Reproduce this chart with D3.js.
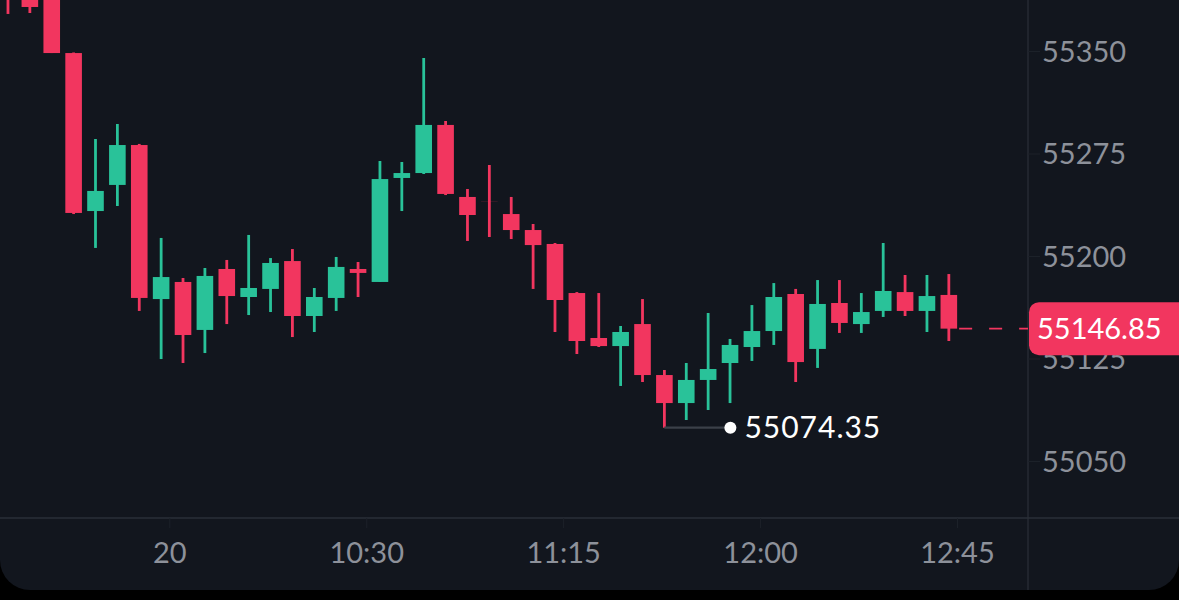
<!DOCTYPE html>
<html>
<head>
<meta charset="utf-8">
<script src="https://cdn.jsdelivr.net/npm/d3@7"></script>
<style>
  html, body { margin: 0; padding: 0; background: #000; }
  svg { display: block; }
</style>
</head>
<body>
<svg id="chart" width="1179" height="600"></svg>
<script>
// ---- data (5-minute candles, open times) ----
const times = ["09:05","09:10","09:15","09:20","09:25","09:30","09:35","09:40","09:45","09:50",
  "09:55","10:00","10:05","10:10","10:15","10:20","10:25","10:30","10:35","10:40",
  "10:45","10:50","10:55","11:00","11:05","11:10","11:15","11:20","11:25","11:30",
  "11:35","11:40","11:45","11:50","11:55","12:00","12:05","12:10","12:15","12:20",
  "12:25","12:30","12:35","12:40"];
const opens  = [55416.6,55402.0,55391.0,55348.5,55232.9,55252.0,55281.2,55168.5,55181.0,55145.9,
  55190.5,55170.0,55175.9,55196.3,55156.1,55169.3,55190.5,55181.0,55257.1,55260.7,
  55295.9,55243.2,55240.1,55230.7,55219.0,55208.8,55172.9,55140.0,55134.1,55150.2,
  55112.9,55092.4,55109.3,55121.7,55133.4,55145.1,55172.2,55132.0,55165.6,55150.2,
  55159.8,55173.6,55159.8,55171.5];
const highs  = [55420.2,55405.6,55393.2,55348.9,55285.6,55296.6,55282.0,55213.2,55183.9,55191.2,
  55197.1,55215.4,55198.5,55205.1,55176.6,55199.3,55195.6,55269.5,55268.8,55344.9,
  55298.8,55249.0,55266.6,55243.2,55223.4,55209.5,55173.6,55172.9,55148.8,55168.5,
  55116.6,55121.7,55158.3,55139.3,55164.1,55180.2,55175.9,55182.4,55182.4,55172.9,
  55209.5,55186.1,55186.1,55186.8];
const lows   = [55377.1,55377.8,55348.5,55230.7,55205.9,55236.6,55159.8,55124.6,55121.7,55129.0,
  55150.2,55156.8,55159.0,55140.7,55144.4,55159.8,55170.0,55181.0,55232.9,55260.0,
  55244.6,55211.0,55213.9,55212.4,55175.9,55144.4,55128.3,55133.4,55104.9,55107.8,
  55074.35,55080.0,55087.3,55092.4,55123.2,55134.9,55107.8,55118.1,55143.7,55143.7,
  55155.4,55156.1,55144.4,55137.8];
const closes = [55394.6,55382.2,55348.5,55231.5,55247.6,55281.2,55169.3,55184.6,55142.2,55185.4,
  55170.7,55176.6,55194.9,55156.1,55170.0,55192.0,55187.6,55256.3,55260.7,55295.9,
  55245.4,55230.0,55240.0,55219.0,55208.0,55167.8,55137.8,55134.1,55144.4,55112.9,
  55092.4,55109.3,55117.3,55134.9,55145.1,55170.0,55122.4,55164.9,55151.0,55159.0,
  55174.4,55159.8,55170.7,55146.85];
const yTicks = [55050, 55125, 55200, 55275, 55350];
const xTickTimes = ["09:45","10:30","11:15","12:00","12:45"];
const xTickLabels = ["20","10:30","11:15","12:00","12:45"];

// ---- styles ----
const W = 1179, H = 600;
const BG = "#12161e", UP = "#29c299", DOWN = "#f2365f";
const AXIS_TXT = "#8d919a", SEP = "#2a2f38";
const FONT = "Lato, 'Open Sans', sans-serif";
const plotRight = 1028, plotBottom = 518, panelBottom = 590;

const parse = d3.timeParse("%H:%M");
const data = times.map((t, i) => ({
  t: parse(t), o: opens[i], h: highs[i], l: lows[i], c: closes[i]
}));

const svg = d3.select("#chart");

// panel with rounded bottom corners
svg.append("rect").attr("x", 0).attr("y", -40).attr("width", W).attr("height", panelBottom + 40)
  .attr("rx", 30).attr("fill", BG);

// scales
const x = d3.scaleTime()
  .domain([parse("09:45"), parse("12:45")])
  .range([169.3, 957]);
const y = d3.scaleLinear()
  .domain([55050, 55350])
  .range([461, 51]);
const step = x(parse("09:10")) - x(parse("09:05"));
const shift = step * 0.627; // candle center relative to its open time
const bodyW = 16.6;
const cx = d => x(d.t) + shift;

// separators
svg.append("line").attr("x1", 0).attr("x2", W).attr("y1", plotBottom).attr("y2", plotBottom)
  .attr("stroke", SEP).attr("stroke-width", 1.5);
svg.append("line").attr("x1", plotRight).attr("x2", plotRight).attr("y1", 0).attr("y2", panelBottom)
  .attr("stroke", SEP).attr("stroke-width", 1.2);

// y axis (labels right of the plot)
const yAxis = d3.axisRight(y).tickValues(yTicks).tickSize(12).tickPadding(2).tickFormat(d3.format("d"));
const yg = svg.append("g").attr("transform", `translate(${plotRight},0)`).call(yAxis);
yg.select(".domain").remove();
yg.selectAll(".tick line").attr("stroke", "#1c2129");
yg.selectAll(".tick text").attr("fill", AXIS_TXT).attr("font-family", FONT)
  .attr("font-size", 29).attr("x", 14).attr("dy", "0.35em");

// x axis
const xAxis = d3.axisBottom(x).tickValues(xTickTimes.map(parse)).tickSize(10).tickPadding(14)
  .tickFormat((d, i) => xTickLabels[i]);
const xg = svg.append("g").attr("transform", `translate(0,${plotBottom})`).call(xAxis);
xg.select(".domain").remove();
xg.selectAll(".tick line").attr("stroke", "#1c2129");
xg.selectAll(".tick text").attr("fill", AXIS_TXT).attr("font-family", FONT)
  .attr("font-size", 29).attr("dy", "0.71em");

// candles
const clip = svg.append("clipPath").attr("id", "plotclip")
  .append("rect").attr("x", 0).attr("y", 0).attr("width", plotRight).attr("height", plotBottom);
const plot = svg.append("g").attr("clip-path", "url(#plotclip)");
const candles = plot.selectAll("g.candle").data(data).join("g").attr("class", "candle");
candles.append("line")
  .attr("x1", cx).attr("x2", cx)
  .attr("y1", d => y(d.h)).attr("y2", d => y(d.l))
  .attr("stroke", d => d.c >= d.o ? UP : DOWN).attr("stroke-width", 2.8);
candles.append("rect")
  .attr("x", d => cx(d) - bodyW / 2).attr("width", bodyW)
  .attr("y", d => y(Math.max(d.o, d.c)))
  .attr("height", d => Math.abs(y(d.o) - y(d.c)))
  .attr("fill", d => d.c >= d.o ? UP : DOWN);

// lowest-low marker
const lowD = data.reduce((a, b) => (b.l < a.l ? b : a));
const ly = y(lowD.l), lx = cx(lowD);
svg.append("line").attr("x1", lx).attr("x2", lx + 66).attr("y1", ly).attr("y2", ly)
  .attr("stroke", "#3b4049").attr("stroke-width", 2.2);
svg.append("circle").attr("cx", lx + 66).attr("cy", ly).attr("r", 6).attr("fill", "#ffffff");
svg.append("text").attr("x", lx + 80).attr("y", ly).attr("dy", "0.35em")
  .attr("fill", "#ffffff").attr("font-family", FONT).attr("font-size", 30)
  .attr("letter-spacing", 1)
  .text(d3.format(".2f")(lowD.l));

// last price line & label
const last = data[data.length - 1];
const py = y(last.c);
svg.append("line").attr("x1", cx(last) + bodyW / 2 + 2).attr("x2", plotRight).attr("y1", py).attr("y2", py)
  .attr("stroke", DOWN).attr("stroke-width", 1.6).attr("stroke-dasharray", "13,17");
svg.append("rect").attr("x", plotRight + 1).attr("y", py - 26.5).attr("width", 190).attr("height", 53)
  .attr("rx", 10).attr("fill", DOWN);
svg.append("text").attr("x", plotRight + 9).attr("y", py).attr("dy", "0.35em")
  .attr("fill", "#ffffff").attr("font-family", FONT).attr("font-size", 29)
  .text(d3.format(".2f")(last.c));
</script>
</body>
</html>
